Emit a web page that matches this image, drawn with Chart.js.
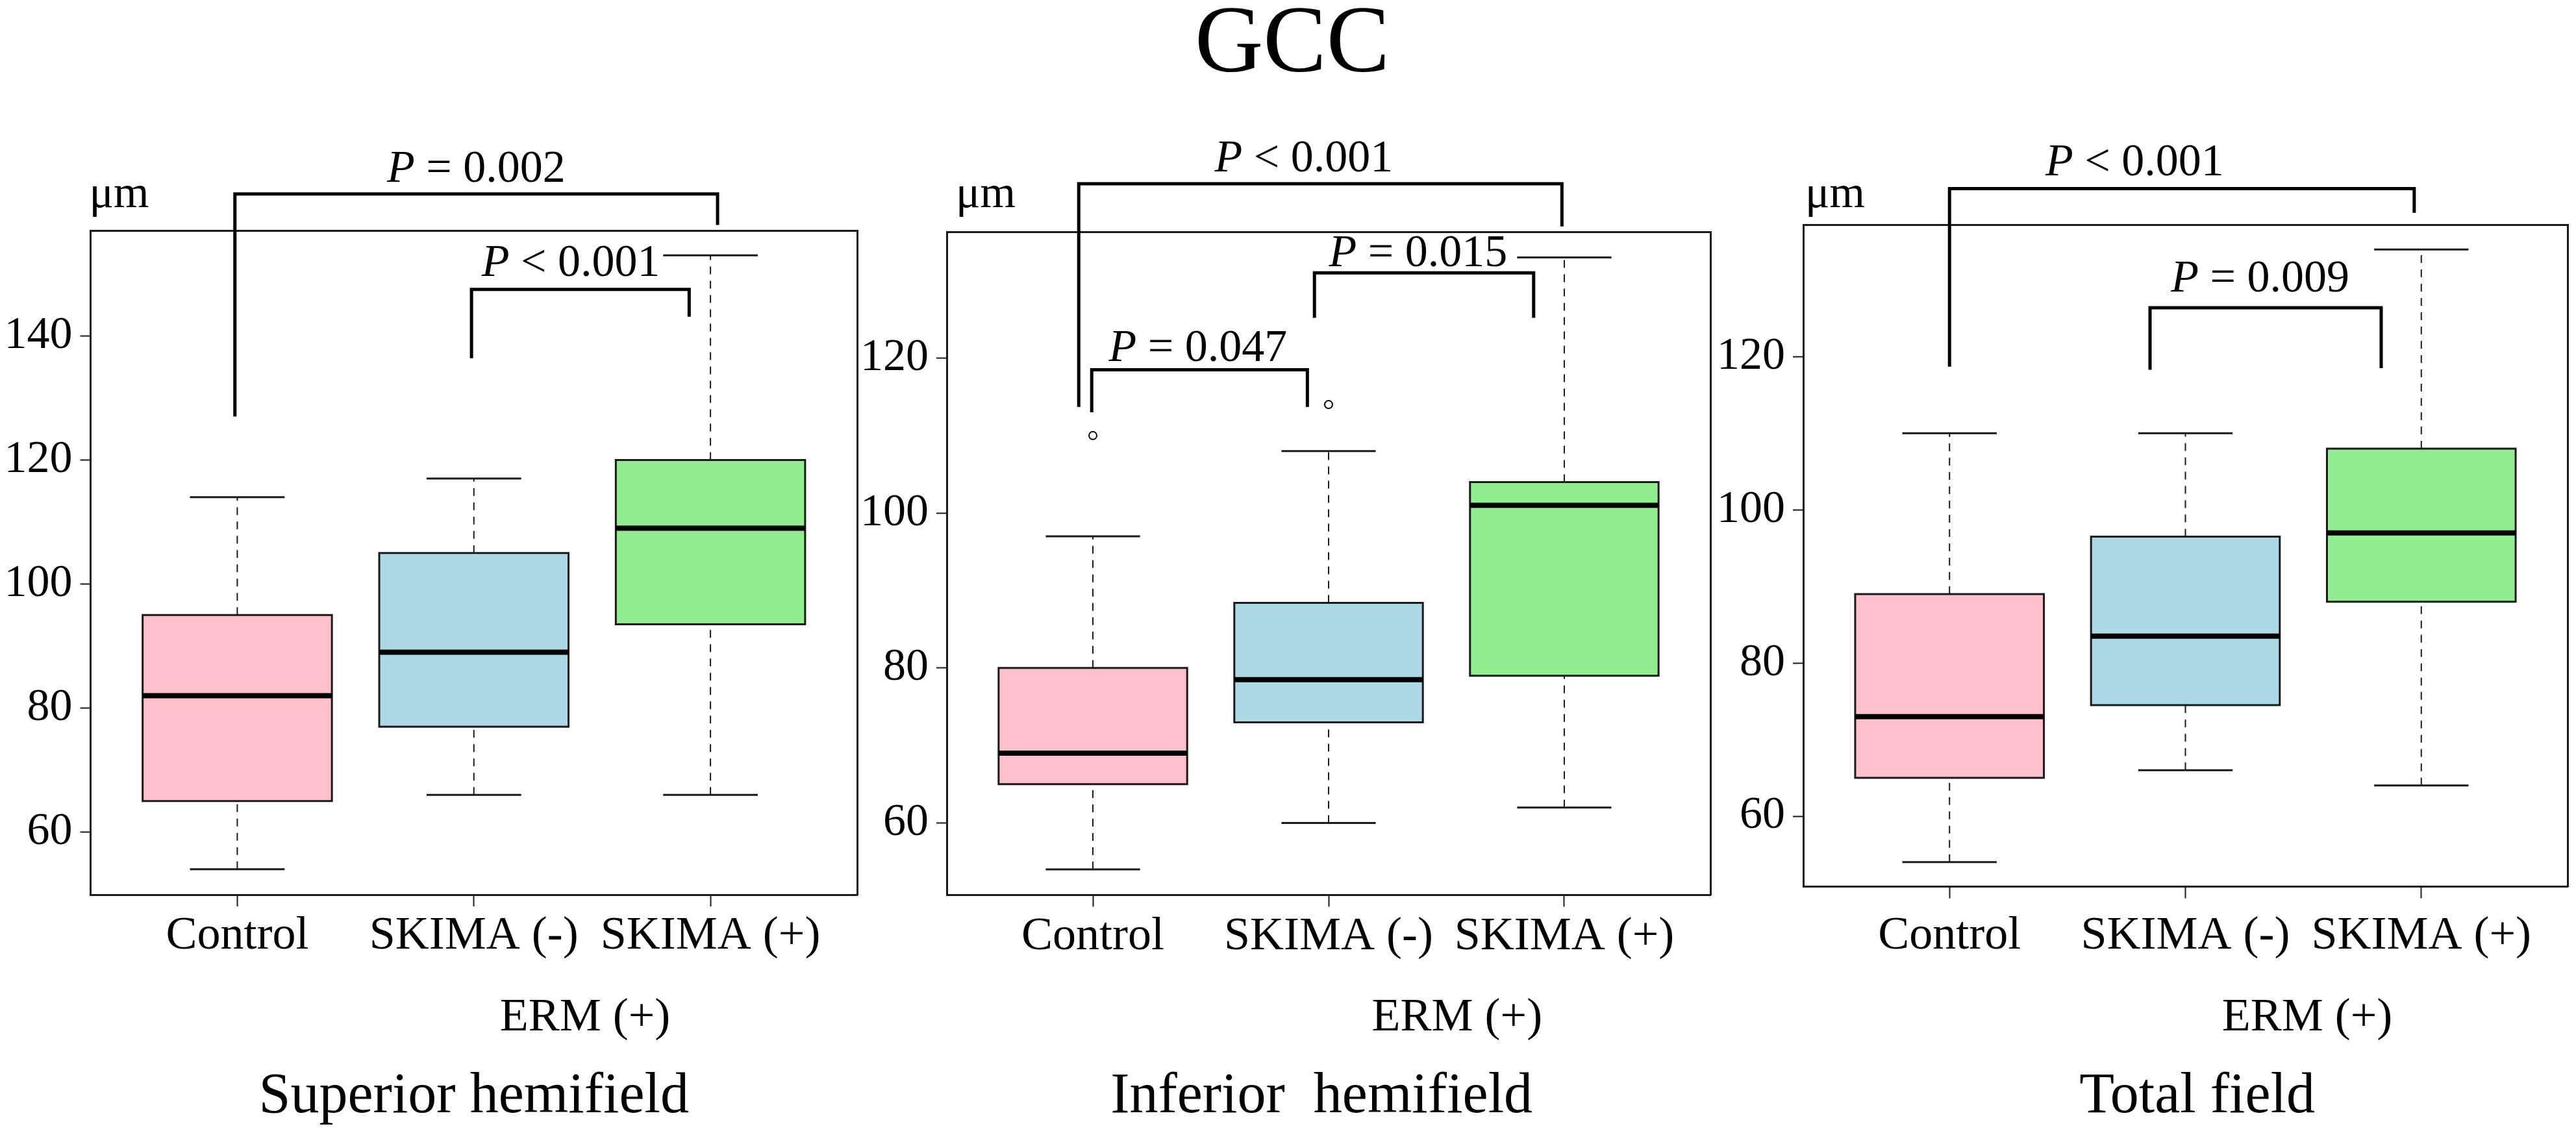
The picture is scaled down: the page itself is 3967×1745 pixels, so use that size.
<!DOCTYPE html>
<html><head><meta charset="utf-8">
<script src="https://cdn.jsdelivr.net/npm/chart.js@4.4.1/dist/chart.umd.min.js"></script>
<style>
html,body{margin:0;padding:0;background:#fff;width:3967px;height:1745px;overflow:hidden}
canvas{position:absolute;left:0;top:0}
</style></head><body>
<canvas id="c0" width="3967" height="1745"></canvas>
<canvas id="c1" width="3967" height="1745"></canvas>
<canvas id="c2" width="3967" height="1745"></canvas>
<script>
// ---------- data ----------
const categories = ['Control', 'SKIMA (-)', 'SKIMA (+)'];
const groupColors = ['#FFC0CB', '#ADD8E6', '#90EE90'];
const panelTitles = ['Superior hemifield', 'Inferior  hemifield', 'Total field'];
const mainTitle = 'GCC';
const yUnit = 'μm';
const groupLabel = 'ERM (+)';

// Superior hemifield
const supLower  = [54, 66, 66];
const supQ1     = [65, 77, 93.5];
const supMedian = [82, 89, 109];
const supQ3     = [95, 105, 120];
const supUpper  = [114, 117, 153];
const supOutliers = [[], [], []];
const supTicks  = [60, 80, 100, 120, 140];
const supRange  = [49.9, 157];
const supBrackets = [[0.99, 127.0, 3.03, 157.9, 162.9], [1.99, 136.4, 2.91, 143.1, 147.5]];
const supPValues  = [[2.01, 164.9, '=', '0.002'], [2.41, 149.7, '<', '0.001']];

// Inferior hemifield
const infLower  = [54, 60, 62];
const infQ1     = [65, 73, 79];
const infMedian = [69, 78.5, 101];
const infQ3     = [80, 88.4, 104];
const infUpper  = [97, 108, 133];
const infOutliers = [[110], [114], []];
const infTicks  = [60, 80, 100, 120];
const infRange  = [50.7, 136.3];
const infBrackets = [[0.94, 113.7, 2.99, 137.0, 142.5], [0.995, 113.0, 1.91, 113.7, 118.5], [1.94, 125.2, 2.87, 125.2, 131.0]];
const infPValues  = [[1.895, 144.1, '<', '0.001'], [1.446, 119.6, '=', '0.047'], [2.38, 131.9, '=', '0.015']];

// Total field
const totLower  = [54, 66, 64];
const totQ1     = [65, 74.5, 88];
const totMedian = [73, 83.5, 97];
const totQ3     = [89, 96.5, 108];
const totUpper  = [110, 110, 134];
const totOutliers = [[], [], []];
const totTicks  = [60, 80, 100, 120];
const totRange  = [50.8, 137.25];
const totBrackets = [[1.0, 118.7, 2.97, 138.8, 141.95], [1.85, 118.3, 2.83, 118.5, 126.4]];
const totPValues  = [[1.785, 143.7, '<', '0.001'], [2.317, 128.5, '=', '0.009']];

// ---------- layout (pixels) ----------
const W = 3967, H = 1745;
const plotBoxes = [[139.5, 1320, 355, 1378], [1458, 2634, 357, 1378.5], [2777, 3954, 346, 1365.5]];
const xTickPad = [3, 3, 15];
const unitOffset = [-2, 14, 3];
const ermX = [2.47, 2.545, 2.516];
const titleX = [2.0, 1.97, 2.05];
const FONT = "'Liberation Serif', 'Times New Roman', serif";
const INK = '#1a1a1a';

function makeTextPlugin(items) {
  return {
    id: 'freeText',
    afterDraw(chart) {
      const ctx = chart.ctx, xs = chart.scales.x, ys = chart.scales.y;
      ctx.save();
      ctx.fillStyle = '#000';
      ctx.textBaseline = 'alphabetic';
      ctx.textAlign = 'left';
      items.forEach(it => {
        const px = it.xData !== undefined ? xs.getPixelForValue(it.xData) : chart.chartArea.left + it.xOff;
        const py = it.yData !== undefined ? ys.getPixelForValue(it.yData) : it.yPx;
        const widths = it.parts.map(p => {
          ctx.font = (p.italic ? 'italic ' : '') + it.size + 'px ' + FONT;
          return ctx.measureText(p.t).width;
        });
        const total = widths.reduce((a, b) => a + b, 0);
        let x = it.align === 'left' ? px : px - total / 2;
        it.parts.forEach((p, i) => {
          ctx.font = (p.italic ? 'italic ' : '') + it.size + 'px ' + FONT;
          ctx.fillText(p.t, x, py);
          x += widths[i];
        });
      });
      ctx.restore();
    }
  };
}

function seg(points, extra) {
  return Object.assign({
    data: points, borderColor: INK, borderWidth: 3, pointRadius: 0, pointHitRadius: 0,
    fill: false, tension: 0, xAxisID: 'x', yAxisID: 'y'
  }, extra);
}

function buildPanel(idx, lower, q1, med, q3, upper, outliers, ticks, range, brackets, pvals) {
  const [L, R, T, B] = plotBoxes[idx];
  const yAxisW = 130, xAxisH = 130;
  const ds = [];
  for (let g = 0; g < categories.length; g++) {
    const c = g + 1, hw = 0.4, cw = 0.2;
    ds.push(seg([{x: c - hw, y: q3[g]}, {x: c + hw, y: q3[g]}],
      {fill: {value: q1[g]}, backgroundColor: groupColors[g], borderWidth: 0, order: 10}));
    ds.push(seg([{x: c, y: q3[g]}, {x: c, y: upper[g]}], {borderWidth: 2, borderDash: [12, 10], order: 6}));
    ds.push(seg([{x: c, y: lower[g]}, {x: c, y: q1[g]}], {borderWidth: 2, borderDash: [12, 10], order: 6}));
    ds.push(seg([{x: c - cw, y: upper[g]}, {x: c + cw, y: upper[g]}], {borderWidth: 3, order: 5}));
    ds.push(seg([{x: c - cw, y: lower[g]}, {x: c + cw, y: lower[g]}], {borderWidth: 3, order: 5}));
    ds.push(seg([{x: c - hw, y: q1[g]}, {x: c + hw, y: q1[g]}, {x: c + hw, y: q3[g]}, {x: c - hw, y: q3[g]}, {x: c - hw, y: q1[g]}],
      {borderWidth: 3, borderJoinStyle: 'miter', borderCapStyle: 'square', order: 4}));
    ds.push(seg([{x: c - hw, y: med[g]}, {x: c + hw, y: med[g]}], {borderWidth: 8, borderColor: '#000', order: 3}));
    if (outliers[g].length) {
      ds.push(seg(outliers[g].map(v => ({x: c, y: v})), {
        showLine: false, pointRadius: 6, pointBorderWidth: 2, pointBorderColor: '#000',
        pointBackgroundColor: 'rgba(0,0,0,0)', order: 2
      }));
    }
  }
  brackets.forEach(b => {
    ds.push(seg([{x: b[0], y: b[1]}, {x: b[0], y: b[4]}, {x: b[2], y: b[4]}, {x: b[2], y: b[3]}],
      {borderWidth: 5, borderColor: '#000', borderJoinStyle: 'miter', clip: false, order: 1}));
  });

  const items = [];
  items.push({xOff: unitOffset[idx], yPx: 319, size: 70, align: 'left', parts: [{t: yUnit}]});
  items.push({xData: ermX[idx], yPx: 1587, size: 72, parts: [{t: groupLabel}]});
  items.push({xData: titleX[idx], yPx: 1713, size: 88, parts: [{t: panelTitles[idx]}]});
  pvals.forEach(p => items.push({xData: p[0], yData: p[1], size: 70,
    parts: [{t: 'P', italic: true}, {t: ' ' + p[2] + ' ' + p[3]}]}));
  if (idx === 1) items.push({xOff: 1990 - L, yPx: 110, size: 146, parts: [{t: mainTitle}]});

  const tickFont = {family: FONT, size: 70};
  new Chart(document.getElementById('c' + idx), {
    type: 'line',
    data: {datasets: ds},
    options: {
      responsive: false, animation: false, devicePixelRatio: 1, events: [],
      layout: {padding: {left: L - yAxisW, right: W - R, top: T, bottom: H - B - xAxisH}},
      plugins: {legend: {display: false}, tooltip: {enabled: false}, title: {display: false}},
      scales: {
        x: {
          type: 'linear', position: 'bottom', min: 0.38, max: 3.62,
          afterBuildTicks: s => { s.ticks = categories.map((_, i) => ({value: i + 1})); },
          afterFit: s => { s.height = xAxisH; },
          ticks: {callback: v => categories[v - 1], font: {family: FONT, size: 72}, color: '#000',
                  padding: xTickPad[idx], maxRotation: 0, autoSkip: false},
          grid: {display: true, drawOnChartArea: false, drawTicks: true, tickLength: 18, tickWidth: 2, tickColor: INK},
          border: {display: true, width: 3, color: INK}
        },
        y: {
          type: 'linear', position: 'left', min: range[0], max: range[1],
          afterBuildTicks: s => { s.ticks = ticks.map(v => ({value: v})); },
          afterFit: s => { s.width = yAxisW; },
          ticks: {font: tickFont, color: '#000', padding: 12, autoSkip: false, callback: v => String(v)},
          grid: {display: true, drawOnChartArea: false, drawTicks: true, tickLength: 16, tickWidth: 2, tickColor: INK},
          border: {display: true, width: 3, color: INK}
        },
        x2: {
          type: 'linear', position: 'top', min: 0.38, max: 3.62, display: true,
          afterFit: s => { s.height = 0; },
          ticks: {display: false}, grid: {display: false, drawTicks: false},
          border: {display: true, width: 3, color: INK}
        },
        y2: {
          type: 'linear', position: 'right', min: range[0], max: range[1], display: true,
          afterFit: s => { s.width = 0; },
          ticks: {display: false}, grid: {display: false, drawTicks: false},
          border: {display: true, width: 3, color: INK}
        }
      }
    },
    plugins: [makeTextPlugin(items)]
  });
}

buildPanel(0, supLower, supQ1, supMedian, supQ3, supUpper, supOutliers, supTicks, supRange, supBrackets, supPValues);
buildPanel(1, infLower, infQ1, infMedian, infQ3, infUpper, infOutliers, infTicks, infRange, infBrackets, infPValues);
buildPanel(2, totLower, totQ1, totMedian, totQ3, totUpper, totOutliers, totTicks, totRange, totBrackets, totPValues);
</script>
</body></html>
